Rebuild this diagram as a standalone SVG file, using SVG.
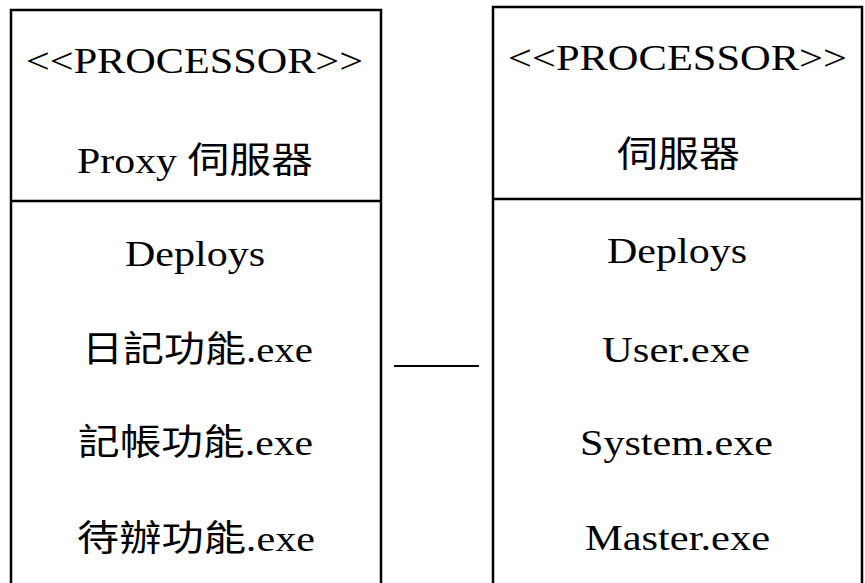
<svg xmlns="http://www.w3.org/2000/svg" width="865" height="583" viewBox="0 0 865 583">
  <style>
    .box { fill: none; stroke: #000; stroke-width: 2.5; }
    .conn { fill: none; stroke: #000; stroke-width: 2; }
    text { font-family: "Liberation Serif", "Noto Sans CJK TC", serif; font-size: 36px; fill: #000; }
  </style>
  <rect width="865" height="583" fill="#fff"/>
  <g id="node-proxy-server">
    <path class="box" d="M11,600 V10 H381 V600"/>
    <path class="box" d="M11,201 H381"/>
    <text x="26" y="73" textLength="337" lengthAdjust="spacingAndGlyphs">&lt;&lt;PROCESSOR&gt;&gt;</text>
    <text x="77" y="173" textLength="236" lengthAdjust="spacingAndGlyphs">Proxy 伺服器</text>
    <text x="125" y="266" textLength="140" lengthAdjust="spacingAndGlyphs">Deploys</text>
    <text x="82" y="362" textLength="231" lengthAdjust="spacingAndGlyphs">日記功能.exe</text>
    <text x="78" y="455" textLength="235" lengthAdjust="spacingAndGlyphs">記帳功能.exe</text>
    <text x="77" y="551" textLength="238" lengthAdjust="spacingAndGlyphs">待辦功能.exe</text>
  </g>
  <g id="node-server">
    <path class="box" d="M493,600 V7 H862 V600"/>
    <path class="box" d="M493,199 H862"/>
    <text x="508" y="70" textLength="339" lengthAdjust="spacingAndGlyphs">&lt;&lt;PROCESSOR&gt;&gt;</text>
    <text x="617" y="167" textLength="123" lengthAdjust="spacingAndGlyphs">伺服器</text>
    <text x="607" y="263" textLength="140" lengthAdjust="spacingAndGlyphs">Deploys</text>
    <text x="602" y="362" textLength="148" lengthAdjust="spacingAndGlyphs">User.exe</text>
    <text x="580" y="455" textLength="193" lengthAdjust="spacingAndGlyphs">System.exe</text>
    <text x="585" y="550" textLength="185" lengthAdjust="spacingAndGlyphs">Master.exe</text>
  </g>
  <g id="connectors">
    <line class="conn" x1="394" y1="366" x2="479" y2="366"/>
  </g>
</svg>
